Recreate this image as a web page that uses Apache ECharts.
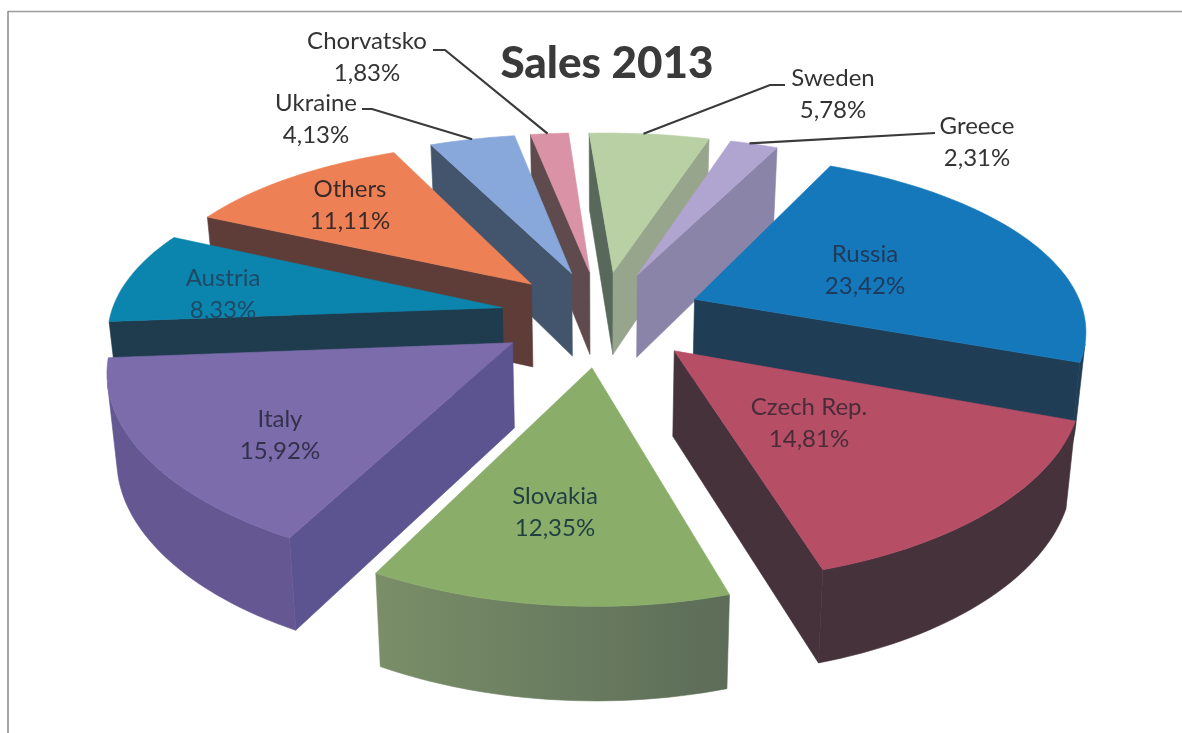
<!DOCTYPE html>
<html><head><meta charset="utf-8">
<style>html,body{margin:0;padding:0;background:#fff}#c{width:1182px;height:733px}</style>
<script src="https://cdn.jsdelivr.net/npm/echarts@6/dist/echarts.min.js"></script>
</head><body><div id="c"></div>
<script>
const categories = ['Sweden','Greece','Russia','Czech Rep.','Slovakia','Italy','Austria','Others','Ukraine','Chorvatsko'];
const shares = [5.78,2.31,23.42,14.81,12.35,15.92,8.33,11.11,4.13,1.83];

// styling, separate from the data
const topColors  = ['#b8d0a4','#b0a4d0','#1578bb','#b64e66','#8aae6a','#7c6cac','#0b85ad','#ee8055','#88a8dc','#d992a6'];
const rimColors  = ['#96a58c','#8a84a8','#1f3d55','#46323a','#6a7d5e','#655792','#1e3c4e','#5e3d39','#42556c','#5f4a4e'];
const leadColors = ['#58685a','#8a84a8','#1f3d55','#46323a','#6a7d5e','#5c5490','#1e3c4e','#5e3d39','#42556c','#5f4a4e'];
const trailColors= ['#96a58c','#8a84a8','#1f3d55','#46323a','#6a7d5e','#5c5490','#1e3c4e','#5e3d39','#42556c','#5f4a4e'];
const explode    = [.26,.26,.26,.26,.28,.27,.26,.26,.26,.26];
const textColors = ['#333','#333','#1f3a5a','#4a2c38','#1f3f40','#33304a','#1e4a66','#3a2a2a','#333','#333'];
const labelPos   = [[833,94],[977,142],[865,270],[809,423],[555,512],[280,435],[223,294],[350,205],[316,119],[367,57]];
const leaders    = [[[785,85],[770,85]],[[935,133]],null,null,null,null,null,null,[[362,109],[372,109]],[[433,50],[445,50]]];
const leaderAt   = [.45,.4,null,null,null,null,null,null,.5,.45];

const cx=602, cy=316, rx=391, ry=177, kx=.14, ky=.1725, tilt=.007, depth=84, shrink=.98, startDeg=-3.9;
const total = shares.reduce((a,b)=>a+b,0);
const proj=(X,Y)=>{const s=1/(1+kx*Y), x=rx*X*s;return [cx+x,cy-ry*Y/(1+ky*Y)+tilt*x,s];};
const down=p=>[cx+(p[0]-cx)*shrink,p[1]+depth*Math.pow(p[2],.6),p[2]];
const area=pts=>{let a=0;pts.forEach((p,i)=>{const q=pts[(i+1)%pts.length];a+=p[0]*q[1]-q[0]*p[1];});return a/2;};
const rad=d=>d*Math.PI/180;

const angles=[];let acc=startDeg;
shares.forEach(v=>{const a=v/total*360;angles.push([acc,acc+a]);acc+=a;});
const rank=angles.map((a,i)=>i).sort((p,q)=>
  Math.cos(rad((angles[q][0]+angles[q][1])/2))-Math.cos(rad((angles[p][0]+angles[p][1])/2)));

function renderItem(params,api){
  const i=params.dataIndex, value=api.value(0);
  const [a0,a1]=angles[i]; const mid=(a0+a1)/2;
  const ox=explode[i]*Math.sin(rad(mid)), oy=explode[i]*Math.cos(rad(mid));
  const apex=proj(ox,oy), arc=[]; const n=Math.max(6,Math.round((a1-a0)/1.5));
  for(let j=0;j<=n;j++){const t=rad(a0+(a1-a0)*j/n);arc.push(proj(ox+Math.sin(t),oy+Math.cos(t)));}
  const base=(rank.indexOf(i)+1)*10, kids=[];
  const poly=(points,fill,z)=>kids.push({type:'polygon',shape:{points:points.map(p=>[p[0],p[1]])},z2:base+z,silent:true,
      style:{fill,stroke:fill,lineWidth:.6}});
  // radial walls and rim, only those that face the viewer
  const lead=[apex,arc[0],down(arc[0]),down(apex)];
  const trail=[apex,down(apex),down(arc[n]),arc[n]];
  if(area(lead)<0) poly(lead,leadColors[i],1);
  if(area(trail)<0) poly(trail,trailColors[i],1);
  let fillRim=rimColors[i];
  if(i===4) fillRim={type:'linear',x:0,y:0,x2:1,y2:0,colorStops:[{offset:0,color:'#7a8e68'},{offset:1,color:'#5c6c58'}]};
  const rim=[];
  for(let j=0;j<n;j++){const q=[arc[j],arc[j+1],down(arc[j+1]),down(arc[j])];
    if(area(q)<0) rim.push(j);}
  if(rim.length){
    const up=[],lo=[];
    rim.forEach(j=>{up.push(arc[j]);lo.push(down(arc[j]));});
    const last=rim[rim.length-1]+1; up.push(arc[last]);lo.push(down(arc[last]));
    poly(up.concat(lo.reverse()),fillRim,2);
  }
  poly([apex].concat(arc),topColors[i],3);
  // label and leader
  const [lx,ly]=labelPos[i], txt=String(value.toFixed(2)).replace('.',',')+'%';
  kids.push({type:'text',z2:500,silent:true,style:{x:lx,y:ly-16,text:categories[i],fill:textColors[i],
     font:'24px Lato',textAlign:'center',textVerticalAlign:'middle'}});
  kids.push({type:'text',z2:500,silent:true,style:{x:lx,y:ly+16,text:txt,fill:textColors[i],
     font:'24px Lato',textAlign:'center',textVerticalAlign:'middle'}});
  if(leaders[i]){
    const t=rad(a0+(a1-a0)*leaderAt[i]);
    const e=proj(ox+Math.sin(t),oy+Math.cos(t));
    kids.push({type:'polyline',z2:400,silent:true,shape:{points:leaders[i].concat([[e[0],e[1]]])},
      style:{stroke:'#3a3a3a',lineWidth:2.2,fill:null}});
  }
  return {type:'group',children:kids};
}

const chart=echarts.init(document.getElementById('c'),null,{renderer:'canvas'});
chart.setOption({
  animation:false,
  backgroundColor:'#fff',
  title:{text:'Sales 2013',left:602,top:37,textAlign:'center',
    textStyle:{fontFamily:'Lato',fontWeight:900,fontSize:44,color:'#3a3a3a'}},
  graphic:[
    {type:'line',shape:{x1:8,y1:11.5,x2:1182,y2:11.5},style:{stroke:'#9c9c9c',lineWidth:1.5},silent:true},
    {type:'line',shape:{x1:8,y1:11,x2:8,y2:733},style:{stroke:'#8a8a8a',lineWidth:1.5},silent:true}
  ],
  series:[{type:'custom',coordinateSystem:'none',renderItem,data:shares.map(v=>[v]),silent:true}]
});
</script></body></html>
